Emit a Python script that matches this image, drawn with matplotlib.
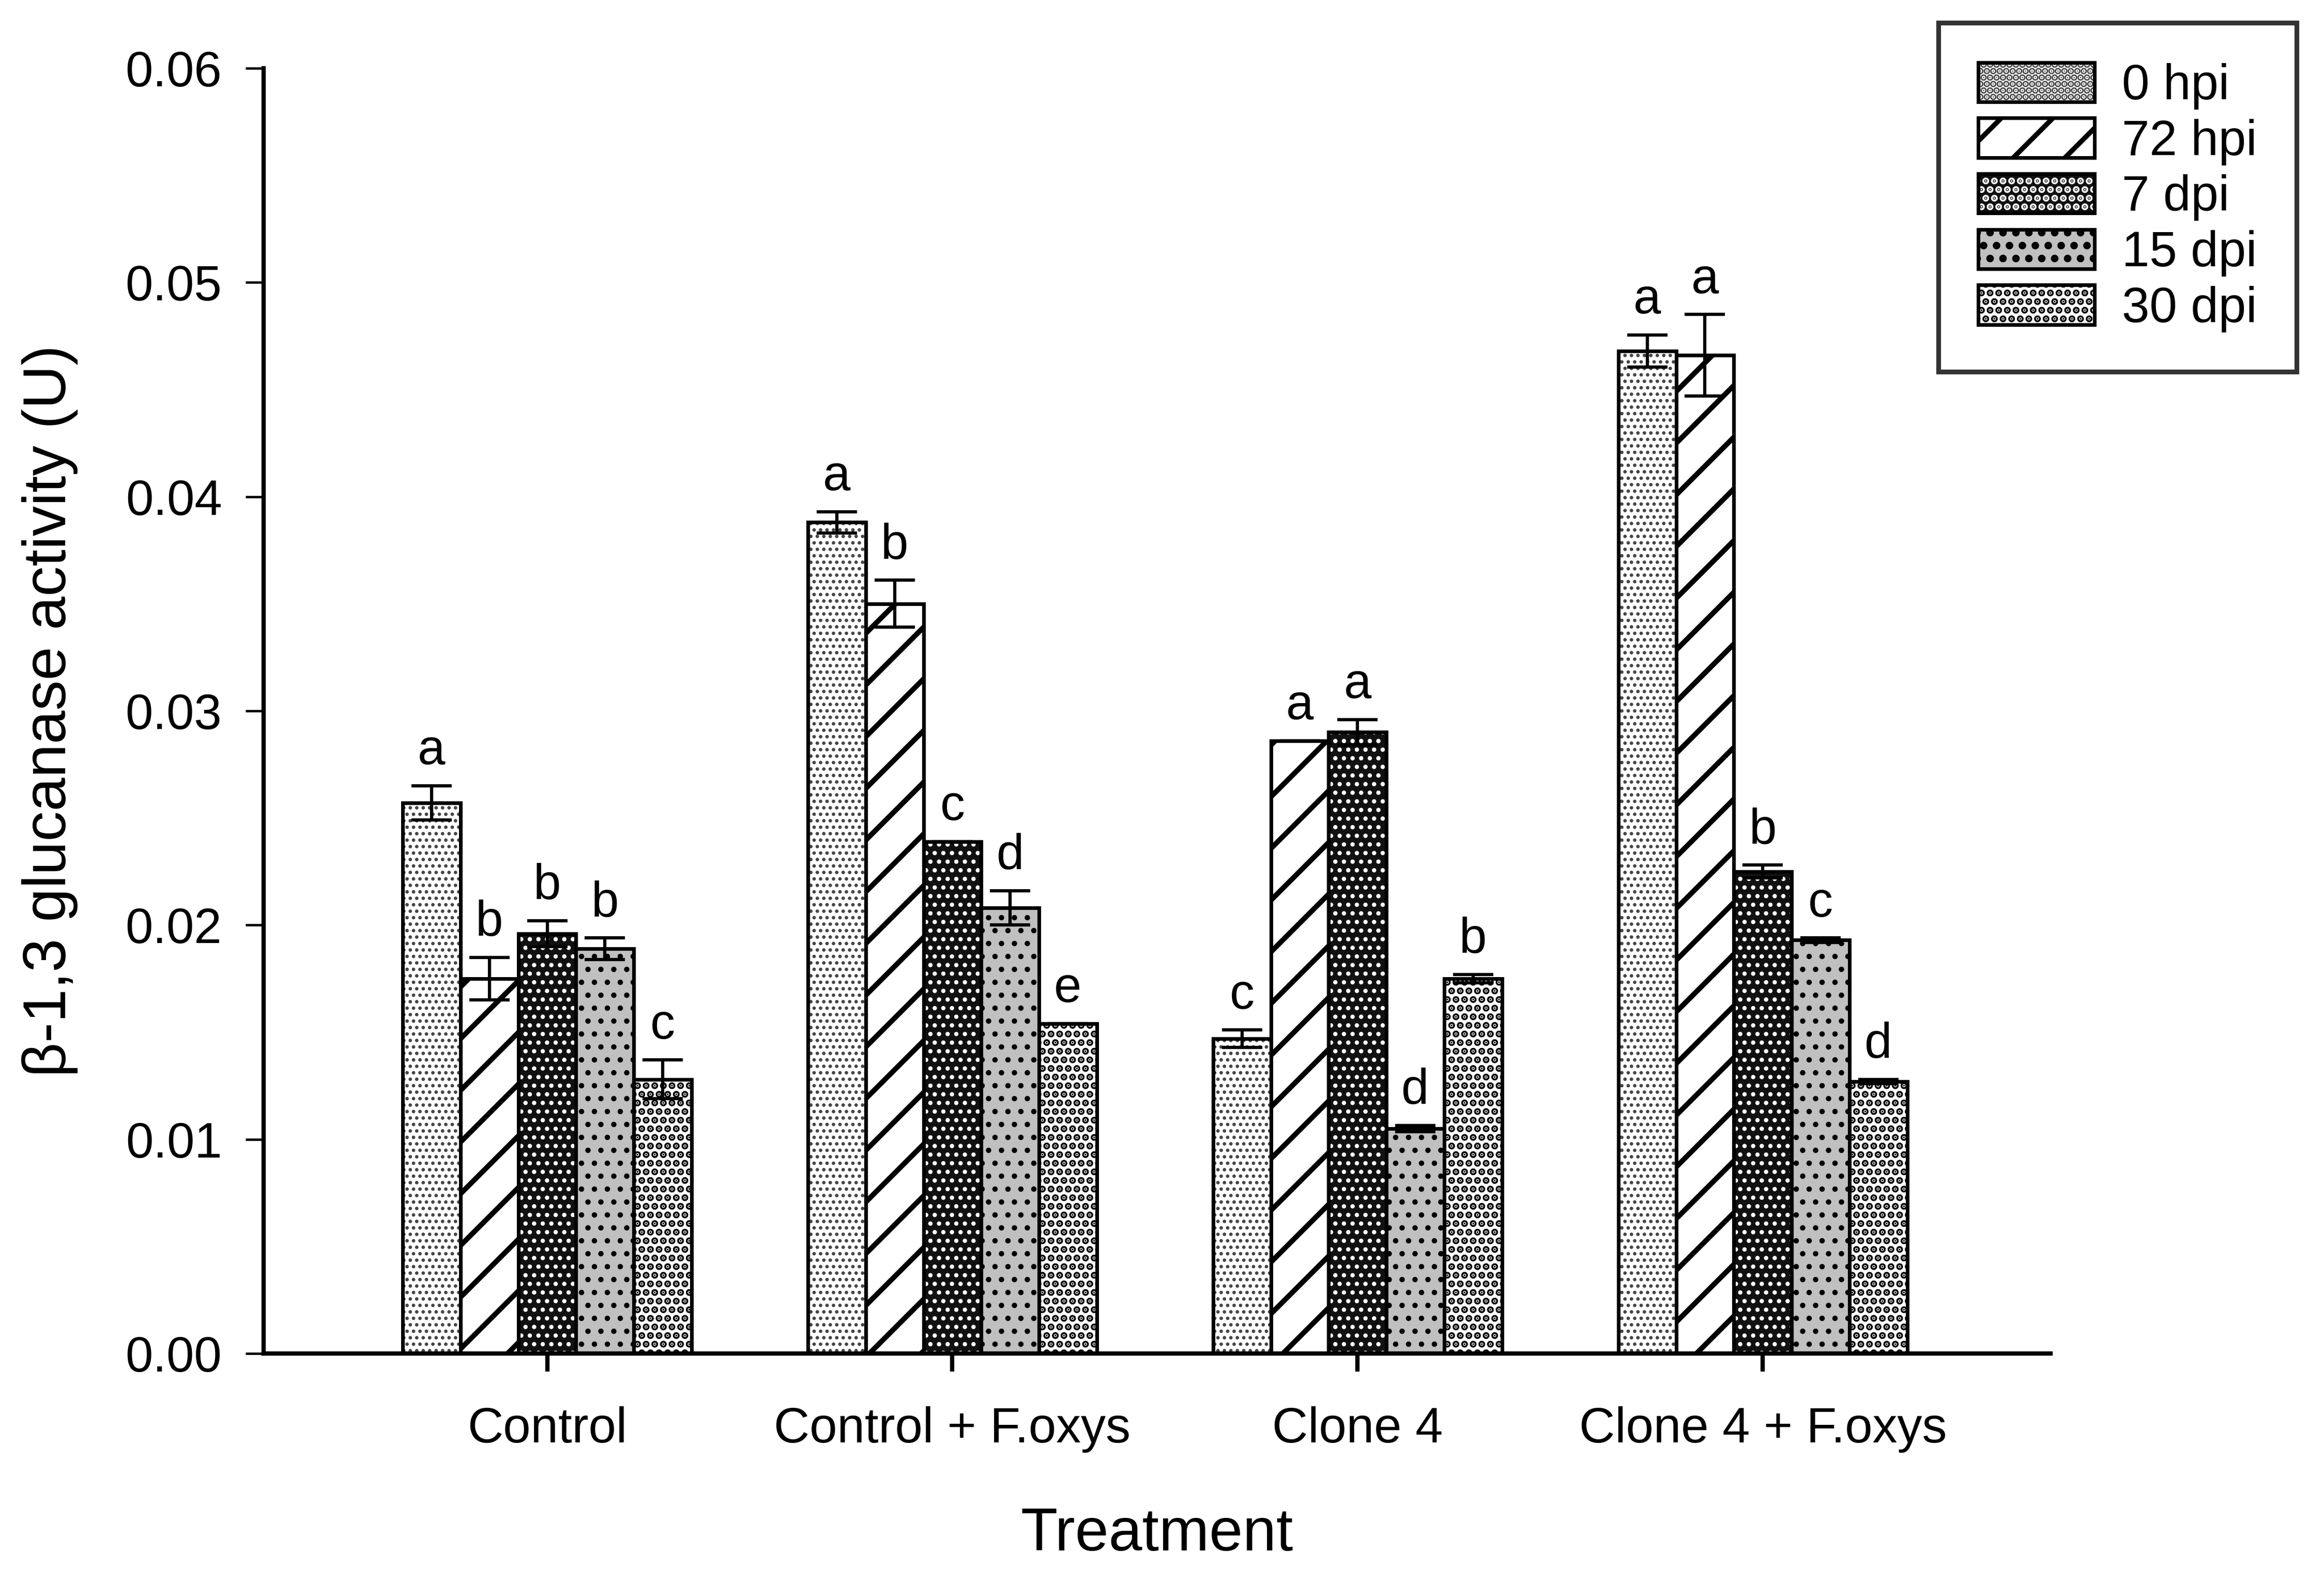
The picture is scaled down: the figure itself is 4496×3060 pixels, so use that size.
import matplotlib
matplotlib.use("Agg")
import matplotlib.pyplot as plt
from matplotlib.patches import Rectangle
import numpy as np

plt.rcParams['font.family'] = ['Liberation Sans', 'DejaVu Sans']

groups = ['Control', 'Control + F.oxys', 'Clone 4', 'Clone 4 + F.oxys']
series = ['0 hpi', '72 hpi', '7 dpi', '15 dpi', '30 dpi']

vals_0hpi = [0.0257, 0.0388, 0.0147, 0.0468]
vals_72hpi = [0.0175, 0.0350, 0.0286, 0.0466]
vals_7dpi = [0.0196, 0.0239, 0.0290, 0.0225]
vals_15dpi = [0.0189, 0.0208, 0.0105, 0.0193]
vals_30dpi = [0.0128, 0.0154, 0.0175, 0.0127]

err_0hpi = [0.0008, 0.0005, 0.0004, 0.00075]
err_72hpi = [0.0010, 0.0011, 0.0000, 0.0019]
err_7dpi = [0.0006, 0.0000, 0.0006, 0.0003]
err_15dpi = [0.0005, 0.0008, 0.00015, 0.0001]
err_30dpi = [0.0009, 0.0000, 0.0002, 0.0001]

letters_0hpi = ['a', 'a', 'c', 'a']
letters_72hpi = ['b', 'b', 'a', 'a']
letters_7dpi = ['b', 'c', 'a', 'b']
letters_15dpi = ['b', 'd', 'd', 'c']
letters_30dpi = ['c', 'e', 'b', 'd']

yticks = [0.00, 0.01, 0.02, 0.03, 0.04, 0.05, 0.06]

all_vals = [vals_0hpi, vals_72hpi, vals_7dpi, vals_15dpi, vals_30dpi]
all_errs = [err_0hpi, err_72hpi, err_7dpi, err_15dpi, err_30dpi]
all_letters = [letters_0hpi, letters_72hpi, letters_7dpi, letters_15dpi, letters_30dpi]

# style per series: facecolor, hatch, hatch colour, hatch linewidth
styles = [
    ('#ffffff', '....', '#444444', 1.0),
    ('#ffffff', '/', '#000000', 2.4),
    ('#111111', '...', '#ffffff', 1.2),
    ('#c0c0c0', '..', '#000000', 1.3),
    ('#ffffff', '...', '#000000', 2.3),
]

fig = plt.figure(figsize=(4496 / 300, 3060 / 300), dpi=300)
ax = fig.add_axes([0.1134, 0.1444, 0.7689, 0.8125])

x = np.arange(len(groups))
w = 0.1426
edge_lw = 1.7
handles = []
for i, (vals, errs, lets, (fc, hatch, hc, hlw)) in enumerate(zip(all_vals, all_errs, all_letters, styles)):
    pos = x + (i - 2) * w
    plt.rcParams['hatch.linewidth'] = hlw
    fill = ax.bar(pos, vals, width=w, color=fc, edgecolor=hc, linewidth=0,
                  hatch=hatch, zorder=2)
    for p in fill:
        if hasattr(p, 'set_hatch_linewidth'):
            p.set_hatch_linewidth(hlw)
    ax.bar(pos, vals, width=w, fill=False, edgecolor='black',
           linewidth=edge_lw, zorder=3)
    ax.errorbar(pos, vals, yerr=errs, fmt='none', ecolor='black',
                elinewidth=1.5, capsize=9.4, capthick=1.5, zorder=4)
    for xp, v, e, l in zip(pos, vals, errs, lets):
        ax.annotate(l, xy=(xp, v + e), xytext=(0, 10), textcoords='offset points',
                    ha='center', va='baseline', fontsize=23)
    hp = Rectangle((0, 0), 1, 1, facecolor=fc, edgecolor=hc, linewidth=0, hatch=hatch)
    if hasattr(hp, 'set_hatch_linewidth'):
        hp.set_hatch_linewidth(hlw)
    op = Rectangle((0, 0), 1, 1, fill=False, edgecolor='black', linewidth=edge_lw)
    handles.append((hp, op))

ax.set_xlim(-0.70, 3.71)
ax.set_ylim(0, 0.06)
ax.set_yticks(yticks)
ax.set_yticklabels(['%.2f' % t for t in yticks])
ax.set_xticks(x)
ax.set_xticklabels(groups)

for s in ['top', 'right']:
    ax.spines[s].set_visible(False)
for s in ['left', 'bottom']:
    ax.spines[s].set_linewidth(2.0)

ax.tick_params(axis='y', direction='out', length=8.3, width=1.1, labelsize=23, pad=11)
ax.tick_params(axis='x', direction='out', length=8.5, width=2.0, labelsize=23, pad=16)

ax.set_xlabel('Treatment', fontsize=28, labelpad=25)
ax.set_ylabel('β-1,3 glucanase activity (U)', fontsize=28, labelpad=22)

leg = fig.legend(handles, series, loc='upper left',
                 bbox_to_anchor=(3750 / 4496, 1 - 44 / 3060),
                 fontsize=23, frameon=True, fancybox=False, edgecolor='black',
                 borderpad=0.8, handlelength=2.35, handleheight=0.85,
                 labelspacing=0.17, handletextpad=0.55, borderaxespad=0)
leg.get_frame().set_linewidth(2.2)

fig.savefig('out.png', dpi=300)
